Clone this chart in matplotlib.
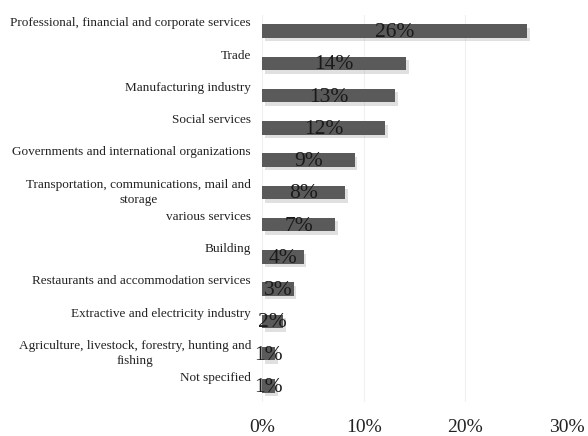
import matplotlib.pyplot as plt
import matplotlib.patheffects as pe
import matplotlib.transforms as mtransforms
from matplotlib.ticker import FuncFormatter

sectors = [
    "Professional, financial and corporate services",
    "Trade",
    "Manufacturing industry",
    "Social services",
    "Governments and international organizations",
    "Transportation, communications, mail and\nstorage",
    "various services",
    "Building",
    "Restaurants and accommodation services",
    "Extractive and electricity industry",
    "Agriculture, livestock, forestry, hunting and\nfishing",
    "Not specified",
]
shares = [26.1, 14.2, 13.1, 12.1, 9.1, 8.2, 7.2, 4.1, 3.1, 2.1, 1.3, 1.3]
xticks = [0, 10, 20, 30]

plt.rcParams['font.family'] = ['Liberation Serif', 'DejaVu Serif']

fig = plt.figure(figsize=(5.88, 4.36), dpi=100)
ax = fig.add_axes([262 / 588, 1 - 402 / 436, 305 / 588, 387 / 436])

pos = list(range(len(sectors)))
bars = ax.barh(pos, shares, height=0.42, color='#5a5a5a', zorder=3)
for b in bars:
    b.set_path_effects([
        pe.SimplePatchShadow(offset=(2, -2.5), shadow_rgbFace='#999999', alpha=0.3),
        pe.Normal(),
    ])

for i, v in enumerate(shares):
    ax.text(v / 2, i + 0.05, f"{v:.0f}%", ha='center', va='center',
            fontsize=15.5, color='#1a1a1a', zorder=4)

# category names sit a little above the bar, two-line names are centred on it
trans = mtransforms.blended_transform_factory(fig.transFigure, ax.transData)
for i, name in enumerate(sectors):
    dy = 0 if '\n' in name else -0.24
    ax.text(251 / 588, i + dy, name, transform=trans, ha='right', va='center',
            multialignment='center', fontsize=9.5, color='#222222',
            linespacing=1.4)

ax.set_xlim(0, 30)
ax.set_ylim(11.5, -0.5)
ax.set_yticks([])
ax.set_xticks(xticks)
ax.xaxis.set_major_formatter(FuncFormatter(lambda x, p: f"{x:.0f}%"))
ax.tick_params(axis='x', length=0, labelsize=14, pad=12, labelcolor='#222222')
ax.grid(axis='x', color='#f0f0f0', linewidth=0.8, zorder=0)
for s in ax.spines.values():
    s.set_visible(False)

fig.savefig('out.png', dpi=100)
